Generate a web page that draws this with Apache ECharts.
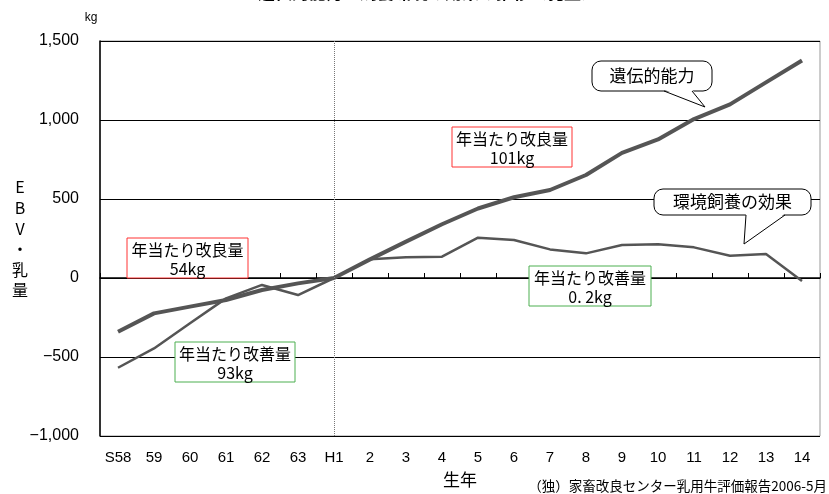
<!DOCTYPE html>
<html>
<head>
<meta charset="utf-8">
<script src="https://cdn.jsdelivr.net/npm/echarts@6/dist/echarts.min.js"></script>
<style>
  html, body { margin: 0; padding: 0; background: #fff; }
  #chart { width: 829px; height: 494px; }
</style>
</head>
<body>
<div id="chart"></div>
<script>
// Birth years (Showa 58 – Heisei 14)
const years = ['S58', '59', '60', '61', '62', '63', 'H1', '2', '3', '4', '5', '6', '7', '8', '9', '10', '11', '12', '13', '14'];
// Genetic ability (EBV, milk yield, kg)
const geneticAbility = [-340, -224, -181, -139, -76, -34, 0, 118, 230, 340, 440, 511, 557, 652, 792, 877, 1006, 1099, 1238, 1377];
// Effect of environment / feeding (kg)
const environmentEffect = [-568, -446, -287, -129, -44, -108, 0, 118, 131, 135, 255, 241, 181, 156, 209, 213, 194, 141, 152, -19];
// Y-axis range and step
const yMin = -1000, yMax = 1500, yStep = 500;

const JP = '"Noto Sans CJK JP", sans-serif';
const NUM = '"Liberation Sans", Arial, sans-serif';
const TOP_Z = 100;

function fmt(v) {
  const s = Math.abs(v).toLocaleString('en-US');
  return v < 0 ? '\u2212' + s : s;
}

function noteBox(left, top, width, height, color, lines) {
  return {
    type: 'group', x: left, y: top,
    children: [
      { type: 'rect', z: TOP_Z, shape: { x: 0, y: 0, width: width, height: height },
        style: { fill: '#fff', stroke: color, lineWidth: 1 } },
      { type: 'text', z: TOP_Z + 1, x: width / 2, y: height / 2 + 1,
        style: { text: lines, fill: '#000', font: '16px ' + JP, align: 'center',
                 verticalAlign: 'middle', lineHeight: 19 } }
    ]
  };
}

// speech bubble: rounded box with a pointer from (b1..b2 on the bottom edge) to tip
function callout(x, y, w, h, b1, b2, tip, text) {
  return {
    type: 'group', x: 0, y: 0,
    children: [
      { type: 'rect', z: TOP_Z, shape: { x: x, y: y, width: w, height: h, r: 9 },
        style: { fill: '#fff', stroke: '#000', lineWidth: 1 } },
      { type: 'polygon', z: TOP_Z + 1, shape: { points: [[b1, y + h - 1.5], tip, [b2, y + h - 1.5]] },
        style: { fill: '#fff', stroke: null } },
      { type: 'polyline', z: TOP_Z + 2, shape: { points: [[b1, y + h], tip, [b2, y + h]] },
        style: { fill: null, stroke: '#000', lineWidth: 1 } },
      { type: 'text', z: TOP_Z + 3, x: x + w / 2, y: y + h / 2,
        style: { text: text, fill: '#000', font: '17px ' + JP, align: 'center', verticalAlign: 'middle' } }
    ]
  };
}

const chart = echarts.init(document.getElementById('chart'));
chart.setOption({
  animation: false,
  backgroundColor: '#fff',
  grid: { left: 100, right: 9, top: 41, bottom: 58, show: true,
          borderColor: '#999', borderWidth: 1, backgroundColor: 'transparent' },
  xAxis: {
    type: 'category', data: years, boundaryGap: true,
    axisLine: { lineStyle: { color: '#000', width: 1.5 } },
    axisTick: { show: true, inside: true, length: 5, interval: 0, lineStyle: { color: '#000' } },
    axisLabel: { interval: 0, color: '#000', fontFamily: NUM, fontSize: 15, margin: 14 },
    splitLine: { show: false }
  },
  yAxis: {
    type: 'value', min: yMin, max: yMax, interval: yStep,
    axisLine: { show: true, lineStyle: { color: '#000', width: 1.5 } },
    axisTick: { show: false },
    axisLabel: { color: '#000', fontFamily: NUM, fontSize: 16, margin: 21, formatter: fmt },
    splitLine: { show: true, lineStyle: { color: '#000', width: 1 } }
  },
  series: [
    {
      name: '遺伝的能力', type: 'line', data: geneticAbility,
      symbol: 'none', z: 3,
      lineStyle: { color: '#555', width: 4 },
      markLine: {
        silent: true, symbol: 'none', label: { show: false },
        lineStyle: { color: '#777', type: 'dotted', width: 1 },
        data: [{ xAxis: 'H1' }]
      }
    },
    {
      name: '環境飼養の効果', type: 'line', data: environmentEffect,
      symbol: 'none', z: 2,
      lineStyle: { color: '#555', width: 2.5 }
    }
  ],
  graphic: [
    // title (runs off the top edge)
    { type: 'text', x: 428, y: 1,
      style: { text: '遺伝的能力と飼養環境の効果の推移（乳量）', fill: '#000',
               font: 'bold 17px ' + JP, align: 'center', verticalAlign: 'bottom' } },
    { type: 'text', x: 91, y: 18,
      style: { text: 'kg', fill: '#000', font: '12px ' + NUM, align: 'center', verticalAlign: 'middle' } },
    // vertical y-axis title
    { type: 'text', x: 20, y: 177,
      style: { text: 'E\nB\nV\n・\n乳\n量', fill: '#000', font: '16px ' + JP,
               lineHeight: 20.6, align: 'center' } },
    { type: 'text', x: 460, y: 480,
      style: { text: '生年', fill: '#000', font: '17px ' + JP, align: 'center', verticalAlign: 'middle' } },
    { type: 'text', x: 827, y: 486,
      style: { text: '（独）家畜改良センター乳用牛評価報告2006-5月', fill: '#000',
               font: '13.5px ' + JP, align: 'right', verticalAlign: 'middle' } },
    // callouts
    callout(592, 61, 120, 30, 664, 692, [705, 107], '遺伝的能力'),
    callout(654, 189, 157, 26, 746, 785, [744, 244], '環境飼養の効果'),
    // yearly gain boxes
    noteBox(127, 238, 121, 40, '#ff3333', '年当たり改良量\n54kg'),
    noteBox(175, 342, 120, 40, '#4caf50', '年当たり改善量\n93kg'),
    noteBox(452, 127, 120, 40, '#ff3333', '年当たり改良量\n101kg'),
    noteBox(529, 266, 122, 40, '#4caf50', '年当たり改善量\n0. 2kg')
  ]
});
</script>
</body>
</html>
